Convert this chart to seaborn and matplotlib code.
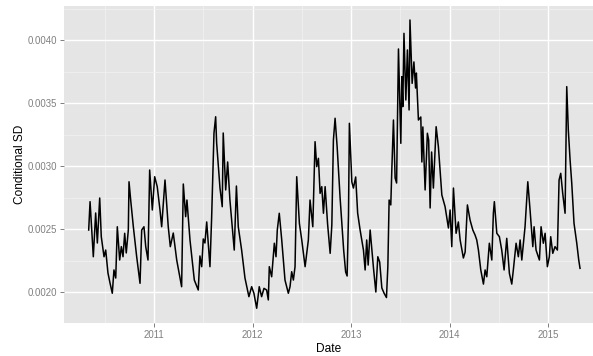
import matplotlib
matplotlib.use("Agg")
import numpy as np
import pandas as pd
import seaborn as sns
import matplotlib.pyplot as plt
import matplotlib.dates as mdates
from matplotlib.ticker import MultipleLocator, FormatStrFormatter

# Dates as decimal years
decimal_years = [
    2010.333, 2010.347, 2010.380, 2010.404, 2010.421, 2010.445, 2010.461, 2010.489, 2010.506, 2010.529,
    2010.550, 2010.573, 2010.590, 2010.608, 2010.624, 2010.648, 2010.665, 2010.682, 2010.699, 2010.715,
    2010.736, 2010.743, 2010.760, 2010.787, 2010.821, 2010.855, 2010.872, 2010.895, 2010.913, 2010.936,
    2010.953, 2010.980, 2011.004, 2011.030, 2011.058, 2011.075, 2011.109, 2011.142, 2011.163, 2011.193,
    2011.228, 2011.278, 2011.295, 2011.319, 2011.332, 2011.363, 2011.407, 2011.447, 2011.464, 2011.482,
    2011.498, 2011.515, 2011.533, 2011.566, 2011.583, 2011.607, 2011.624, 2011.634, 2011.668, 2011.691,
    2011.701, 2011.726, 2011.746, 2011.769, 2011.787, 2011.813, 2011.835, 2011.854, 2011.888, 2011.922,
    2011.962, 2011.990, 2012.013, 2012.041, 2012.067, 2012.091, 2012.115, 2012.142, 2012.159, 2012.169,
    2012.193, 2012.209, 2012.220, 2012.237, 2012.250, 2012.270, 2012.295, 2012.328, 2012.362, 2012.379,
    2012.396, 2012.413, 2012.430, 2012.447, 2012.474, 2012.498, 2012.532, 2012.565, 2012.582, 2012.610,
    2012.633, 2012.650, 2012.667, 2012.684, 2012.701, 2012.718, 2012.735, 2012.760, 2012.786, 2012.803,
    2012.819, 2012.836, 2012.857, 2012.887, 2012.923, 2012.943, 2012.958, 2012.972, 2012.981, 2013.006,
    2013.022, 2013.045, 2013.065, 2013.090, 2013.124, 2013.141, 2013.157, 2013.172, 2013.192, 2013.226,
    2013.250, 2013.270, 2013.289, 2013.311, 2013.334, 2013.358, 2013.372, 2013.385, 2013.402, 2013.413,
    2013.429, 2013.446, 2013.461, 2013.480, 2013.504, 2013.514, 2013.524, 2013.536, 2013.555, 2013.571,
    2013.588, 2013.597, 2013.619, 2013.637, 2013.654, 2013.662, 2013.683, 2013.707, 2013.718, 2013.728,
    2013.751, 2013.774, 2013.787, 2013.802, 2013.817, 2013.835, 2013.863, 2013.886, 2013.921, 2013.954,
    2013.988, 2014.005, 2014.022, 2014.039, 2014.066, 2014.089, 2014.107, 2014.140, 2014.158, 2014.181,
    2014.208, 2014.236, 2014.259, 2014.276, 2014.293, 2014.317, 2014.344, 2014.361, 2014.378, 2014.404,
    2014.429, 2014.445, 2014.455, 2014.480, 2014.506, 2014.530, 2014.554, 2014.581, 2014.608, 2014.632,
    2014.648, 2014.676, 2014.699, 2014.717, 2014.734, 2014.767, 2014.795, 2014.818, 2014.846, 2014.859,
    2014.879, 2014.913, 2014.930, 2014.953, 2014.971, 2014.994, 2015.014, 2015.028, 2015.049, 2015.072,
    2015.096, 2015.113, 2015.130, 2015.150, 2015.174, 2015.191, 2015.207, 2015.225, 2015.242, 2015.265,
    2015.293, 2015.313, 2015.326,
]

conditional_sd = [
    0.002492, 0.002717, 0.002280, 0.002627, 0.002389, 0.002746, 0.002439, 0.002280, 0.002333, 0.002151,
    0.002071, 0.001990, 0.002175, 0.002111, 0.002518, 0.002254, 0.002360, 0.002280, 0.002466, 0.002310,
    0.002492, 0.002875, 0.002730, 0.002518, 0.002280, 0.002069, 0.002492, 0.002518, 0.002360, 0.002254,
    0.002968, 0.002651, 0.002915, 0.002836, 0.002651, 0.002518, 0.002889, 0.002518, 0.002360, 0.002468,
    0.002254, 0.002042, 0.002857, 0.002598, 0.002730, 0.002413, 0.002095, 0.002016, 0.002286, 0.002201,
    0.002421, 0.002389, 0.002556, 0.002201, 0.002587, 0.003262, 0.003391, 0.003183, 0.002825, 0.002677,
    0.003262, 0.002810, 0.003032, 0.002730, 0.002571, 0.002333, 0.002841, 0.002518, 0.002333, 0.002111,
    0.001963, 0.002042, 0.001990, 0.001871, 0.002042, 0.001963, 0.002029, 0.002016, 0.001937, 0.002201,
    0.002121, 0.002280, 0.002387, 0.002280, 0.002492, 0.002625, 0.002413, 0.002095, 0.001990, 0.002042,
    0.002161, 0.002095, 0.002201, 0.002915, 0.002545, 0.002413, 0.002201, 0.002413, 0.002730, 0.002518,
    0.003193, 0.002995, 0.003061, 0.002783, 0.002836, 0.002625, 0.002836, 0.002540, 0.002307, 0.002532,
    0.003206, 0.003379, 0.003151, 0.002746, 0.002333, 0.002159, 0.002127, 0.002611, 0.003339, 0.002873,
    0.002825, 0.002913, 0.002627, 0.002492, 0.002333, 0.002175, 0.002413, 0.002214, 0.002492, 0.002190,
    0.002000, 0.002280, 0.002238, 0.002032, 0.001990, 0.001956, 0.002201, 0.002730, 0.002691, 0.002984,
    0.003365, 0.002905, 0.002865, 0.003929, 0.003180, 0.003709, 0.003471, 0.004053, 0.003524, 0.003921,
    0.003445, 0.004159, 0.003656, 0.003826, 0.003619, 0.003738, 0.003365, 0.003389, 0.003032, 0.003310,
    0.002810, 0.003260, 0.003206, 0.002667, 0.003111, 0.002825, 0.003312, 0.003153, 0.002770, 0.002677,
    0.002508, 0.002651, 0.002360, 0.002825, 0.002466, 0.002556, 0.002413, 0.002270, 0.002317, 0.002691,
    0.002571, 0.002492, 0.002452, 0.002413, 0.002333, 0.002175, 0.002063, 0.002175, 0.002121, 0.002387,
    0.002254, 0.002625, 0.002717, 0.002466, 0.002439, 0.002333, 0.002175, 0.002426, 0.002148, 0.002063,
    0.002175, 0.002387, 0.002280, 0.002413, 0.002254, 0.002518, 0.002875, 0.002651, 0.002360, 0.002518,
    0.002333, 0.002254, 0.002518, 0.002387, 0.002466, 0.002201, 0.002280, 0.002439, 0.002307, 0.002360,
    0.002333, 0.002889, 0.002942, 0.002783, 0.002625, 0.003630, 0.003286, 0.003048, 0.002863, 0.002545,
    0.002387, 0.002254, 0.002188,
]

y_breaks = [0.0020, 0.0025, 0.0030, 0.0035, 0.0040]


def to_date(dy):
    y = int(np.floor(dy))
    start = pd.Timestamp(year=y, month=1, day=1)
    end = pd.Timestamp(year=y + 1, month=1, day=1)
    return start + (end - start) * (dy - y)


df = pd.DataFrame({
    "Date": [to_date(d) for d in decimal_years],
    "Conditional SD": conditional_sd,
})

plt.rcParams["font.family"] = ["Liberation Sans", "DejaVu Sans"]

W, H = 593, 356
fig = plt.figure(figsize=(W / 100, H / 100), dpi=100)
fig.patch.set_facecolor("white")
left, right, top, bottom = 64, 593, 6, 323
ax = fig.add_axes([left / W, 1 - bottom / H, (right - left) / W, (bottom - top) / H])

sns.lineplot(data=df, x="Date", y="Conditional SD", ax=ax, color="black", linewidth=1.1)

ax.set_facecolor("#E5E5E5")
for s in ax.spines.values():
    s.set_visible(False)

ax.set_xlim(to_date(2010.082), to_date(2015.458))
ax.set_ylim(0.001754, 0.004270)

ax.xaxis.set_major_locator(mdates.YearLocator())
ax.xaxis.set_major_formatter(mdates.DateFormatter("%Y"))
ax.xaxis.set_minor_locator(mdates.MonthLocator(bymonth=7, bymonthday=2))
ax.set_yticks(y_breaks)
ax.yaxis.set_major_formatter(FormatStrFormatter("%.4f"))
ax.yaxis.set_minor_locator(MultipleLocator(0.00025))

ax.set_axisbelow(True)
ax.grid(which="major", color="white", linewidth=1.0)
ax.grid(which="minor", color="#F2F2F2", linewidth=0.5)

ax.tick_params(which="major", length=2.9, width=0.7, color="#7F7F7F",
               labelsize=6.9, labelcolor="#7F7F7F", pad=2)
ax.tick_params(which="minor", length=0)

ax.set_xlabel("Date", fontsize=8.6, color="black", labelpad=2)
ax.set_ylabel("Conditional SD", fontsize=8.6, color="black", labelpad=1)

fig.savefig("out.png", dpi=100, facecolor="white")
